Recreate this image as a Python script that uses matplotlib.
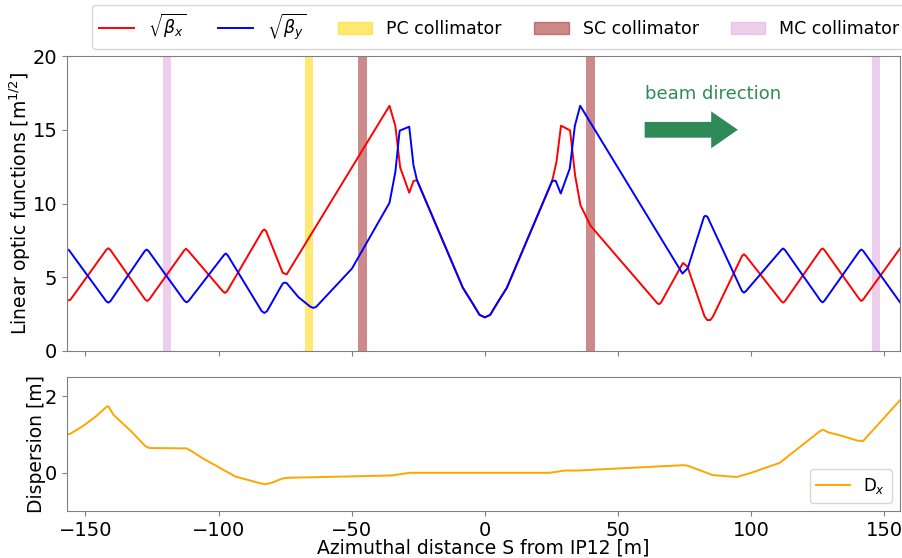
import matplotlib
matplotlib.use("Agg")
import matplotlib.pyplot as plt
from matplotlib.patches import Patch
from matplotlib.lines import Line2D

# ---- data ----
s_bx = [-156.9, -155.6, -142.2, -141.4, -140.6, -127.6, -126.8, -126.0, -112.9, -112.2, -111.5,
        -98.4, -97.6, -96.8, -83.5, -82.8, -82.1, -75.9, -74.4, -35.8, -33.6, -31.8, -28.4, -26.8,
        -25.5, -8.3, -4.5, -2.0, 0.0, 2.0, 4.5, 8.3, 25.3, 26.9, 28.6, 32.0, 33.9, 35.9, 39.7,
        64.7, 65.4, 66.1, 74.4, 76.1, 82.5, 83.5, 84.7, 85.7, 96.6, 97.3, 98.0, 111.3, 112.0,
        112.7, 126.1, 126.8, 127.5, 140.7, 141.4, 142.1, 155.9]
sqrt_bx = [3.40, 3.48, 6.85, 6.97, 6.85, 3.50, 3.39, 3.50, 6.82, 6.93, 6.82,
           4.05, 3.94, 4.05, 8.15, 8.24, 8.12, 5.30, 5.20, 16.63, 15.25, 12.45, 10.73, 11.52,
           11.59, 4.30, 3.20, 2.45, 2.28, 2.45, 3.20, 4.30, 11.54, 12.83, 15.28, 14.96, 11.90, 9.89, 8.49,
           3.25, 3.17, 3.27, 5.97, 5.72, 2.35, 2.10, 2.10, 2.35, 6.45, 6.56, 6.45, 3.38, 3.28,
           3.38, 6.85, 6.95, 6.85, 3.50, 3.39, 3.50, 6.95]

s_by = [-156.9, -156.2, -142.2, -141.4, -140.6, -127.7, -127.0, -126.3, -112.8, -112.0, -111.2,
        -98.0, -97.3, -96.6, -83.8, -82.8, -81.8, -76.0, -75.3, -74.4, -70.0, -65.5, -64.4, -63.3,
        -49.9, -35.8, -33.6, -32.0, -28.4, -26.8, -25.5, -8.3, -4.5, -2.0, 0.0, 2.0, 4.5, 8.3,
        25.3, 26.6, 28.5, 31.9, 33.8, 35.8, 74.2, 76.2, 82.3, 82.8, 83.6, 96.6, 97.3, 98.0,
        111.3, 112.0, 112.7, 126.1, 126.8, 127.5, 140.7, 141.4, 142.1, 155.9]
sqrt_by = [6.90, 6.85, 3.38, 3.28, 3.38, 6.78, 6.88, 6.78, 3.40, 3.30, 3.40,
           6.50, 6.61, 6.50, 2.70, 2.58, 2.70, 4.55, 4.64, 4.60, 3.65, 3.00, 2.92, 3.00,
           5.59, 10.05, 12.15, 14.94, 15.21, 12.60, 11.59, 4.30, 3.20, 2.45, 2.28, 2.45, 3.20, 4.30,
           11.54, 11.54, 10.68, 12.38, 15.27, 16.63, 5.25, 5.62, 9.10, 9.17, 9.10, 4.05, 3.96, 4.05,
           6.85, 6.95, 6.85, 3.40, 3.30, 3.40, 6.78, 6.88, 6.78, 3.30]

s_dx = [-156.9, -155.5, -151.0, -146.0, -142.2, -141.3, -139.5, -133.0, -127.5, -126.0, -112.0,
        -110.0, -105.7, -93.6, -85.0, -82.5, -80.0, -76.0, -74.0, -35.2, -28.2, 24.2, 30.2, 35.0,
        74.5, 76.0, 85.6, 94.6, 100.0, 110.7, 126.0, 127.0, 128.9, 134.0, 140.0, 142.0, 155.9]
dx = [1.00, 1.03, 1.22, 1.48, 1.72, 1.74, 1.52, 1.10, 0.70, 0.65, 0.64,
      0.56, 0.37, -0.10, -0.26, -0.30, -0.26, -0.15, -0.13, -0.07, 0.00, 0.00, 0.06, 0.06,
      0.20, 0.19, -0.06, -0.11, 0.00, 0.26, 1.10, 1.13, 1.06, 0.97, 0.84, 0.83, 1.90]

pc_coll = [(-67.5, -64.4)]
sc_coll = [(-47.7, -44.3), (37.8, 41.2)]
mc_coll = [(-120.7, -117.9), (145.3, 148.4)]

legend_labels = [r'$\sqrt{\beta_x}$', r'$\sqrt{\beta_y}$', 'PC collimator', 'SC collimator', 'MC collimator']

# ---- figure ----
fig = plt.figure(figsize=(9.02, 5.58), dpi=100)
ax1 = fig.add_axes([0.0743, 0.371, 0.9235, 0.5285])
ax2 = fig.add_axes([0.0743, 0.0842, 0.9235, 0.2396], sharex=ax1)

pc_col = (1.0, 0.843, 0.0, 0.55)
sc_col = (0.647, 0.165, 0.165, 0.55)
mc_col = (0.867, 0.627, 0.867, 0.5)

for a, b in pc_coll:
    ax1.axvspan(a, b, color=pc_col, lw=0)
for a, b in sc_coll:
    ax1.axvspan(a, b, color=sc_col, lw=0)
for a, b in mc_coll:
    ax1.axvspan(a, b, color=mc_col, lw=0)

ax1.plot(s_bx, sqrt_bx, color='red', lw=1.4)
ax1.plot(s_by, sqrt_by, color='blue', lw=1.4)

ax1.set_xlim(-156.9, 155.9)
ax1.set_ylim(0, 20)
ax1.set_yticks([0, 5, 10, 15, 20])
ax1.set_ylabel(r'Linear optic functions [m$^{1/2}$]', fontsize=13.5, labelpad=-0.5)
ax1.tick_params(labelbottom=False)

ax1.text(60.3, 17.4, 'beam direction', color='#2e8b57', fontsize=13, va='center', ha='left')
ax1.arrow(60, 15, 35, 0, width=1.07, head_width=2.5, head_length=10,
          length_includes_head=True, color='#2e8b57', lw=0)

ax2.plot(s_dx, dx, color='orange', lw=1.4, label=r'D$_x$')
ax2.set_ylim(-1.0, 2.5)
ax2.set_yticks([0, 2])
ax2.set_xticks([-150, -100, -50, 0, 50, 100, 150])
ax2.set_ylabel('Dispersion [m]', fontsize=13.5, labelpad=-0.5)
ax2.set_xlabel('Azimuthal distance S from IP12 [m]', fontsize=13.5, labelpad=-1)
ax2.legend(loc='lower right', fontsize=12)

for ax in (ax1, ax2):
    for sp in ax.spines.values():
        sp.set_color('gray')
    ax.tick_params(labelsize=14, color='gray')

handles = [Line2D([], [], color='red', lw=1.4), Line2D([], [], color='blue', lw=1.4),
           Patch(color=pc_col), Patch(color=sc_col), Patch(color=mc_col)]
fig.legend(handles, legend_labels, loc='upper right', bbox_to_anchor=(1.0145, 1.007),
           ncol=5, fontsize=12.5, columnspacing=1.85)

fig.savefig('out.png', dpi=100)
